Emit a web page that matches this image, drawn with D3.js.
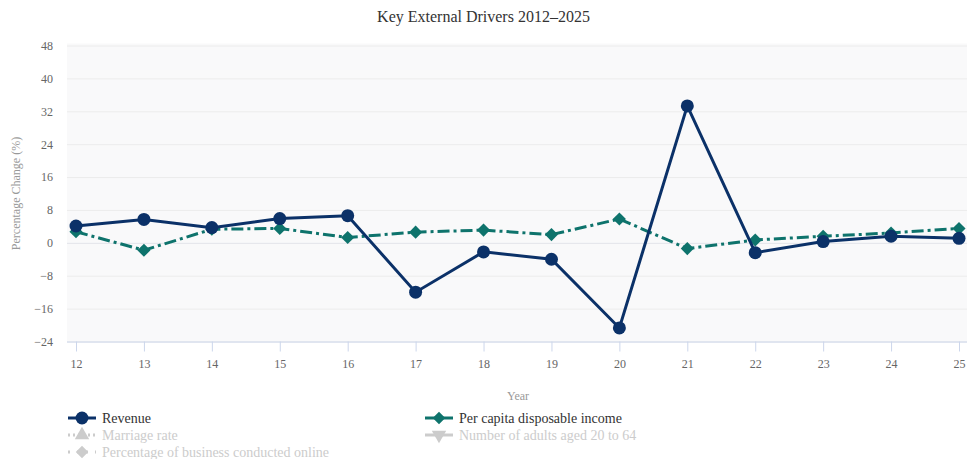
<!DOCTYPE html>
<html>
<head>
<meta charset="utf-8">
<script src="https://cdn.jsdelivr.net/npm/d3@7"></script>
<style>
  html, body { margin: 0; padding: 0; background: #ffffff; }
  svg { display: block; font-family: "Liberation Serif", "Times New Roman", serif; }
  svg text { font-family: "Liberation Serif", "Times New Roman", serif; }
</style>
</head>
<body>
<svg id="chart" width="967" height="459"></svg>
<script>
// Year labels (two-digit) along the category axis
const years = ["12","13","14","15","16","17","18","19","20","21","22","23","24","25"];
// Annual percentage change per series
const revenue = [4.1, 5.7, 3.7, 5.9, 6.6, -12.0, -2.2, -4.0, -20.7, 33.3, -2.4, 0.3, 1.6, 1.1];
const perCapitaIncome = [2.7, -1.8, 3.3, 3.5, 1.3, 2.6, 3.1, 2.0, 5.8, -1.4, 0.7, 1.6, 2.4, 3.5];
const yTicks = [-24, -16, -8, 0, 8, 16, 24, 32, 40, 48];

const svg = d3.select("#chart");
const W = 967;
const plot = { left: 67, right: 968, top: 45.5, bottom: 341.5 };

const x = d3.scalePoint().domain(years).range([76, 959]);
const y = d3.scaleLinear().domain([-24, 48]).range([plot.bottom, plot.top]);

// Plot background
svg.append("rect")
  .attr("x", plot.left).attr("y", plot.top - 2)
  .attr("width", plot.right - plot.left).attr("height", plot.bottom - plot.top + 2)
  .attr("fill", "#f9f9fa");

// Title
svg.append("text")
  .attr("x", W / 2).attr("y", 22)
  .attr("text-anchor", "middle")
  .attr("font-size", 16).attr("fill", "#333333")
  .text("Key External Drivers 2012–2025");

// Horizontal grid and y labels
const yAxis = d3.axisLeft(y).tickValues(yTicks).tickSize(-(plot.right - plot.left)).tickPadding(14);
const gy = svg.append("g").attr("transform", `translate(${plot.left},0)`).call(yAxis)
  .attr("font-family", "Liberation Serif, serif");
gy.select(".domain").remove();
gy.selectAll(".tick line")
  .attr("stroke", d => d === 0 ? "#e2e4ea" : "#ececec")
  .attr("stroke-width", 1);
gy.selectAll(".tick text")
  .attr("font-size", 12).attr("fill", "#666666");

svg.append("text")
  .attr("transform", `translate(20,${(plot.top + plot.bottom) / 2}) rotate(-90)`)
  .attr("text-anchor", "middle")
  .attr("font-size", 12).attr("fill", "#999999")
  .text("Percentage Change (%)");

// Category axis along the bottom
const xAxis = d3.axisBottom(x).tickSize(10).tickPadding(8);
const gx = svg.append("g").attr("transform", `translate(0,${plot.bottom})`).call(xAxis)
  .attr("font-family", "Liberation Serif, serif");
gx.select(".domain").attr("d", `M${plot.left},0.5H${plot.right}`).attr("stroke", "#ccd6eb");
gx.selectAll(".tick line").attr("stroke", "#ccd6eb");
gx.selectAll(".tick text")
  .attr("font-size", 12).attr("fill", "#666666");

svg.append("text")
  .attr("x", 518).attr("y", 400)
  .attr("text-anchor", "middle")
  .attr("font-size", 12).attr("fill", "#999999")
  .text("Year");

const revColor = "#0b3168";
const incColor = "#0e736c";

const line = d3.line().x((d, i) => x(years[i])).y(d => y(d));

// Per capita disposable income: dash-dot line with diamonds
svg.append("path")
  .datum(perCapitaIncome)
  .attr("d", line)
  .attr("fill", "none").attr("stroke", incColor)
  .attr("stroke-width", 3).attr("stroke-dasharray", "12,4,3,4");

const diamond = d3.symbol().type(d3.symbolDiamond2).size(110);
svg.append("g").selectAll("path")
  .data(perCapitaIncome)
  .join("path")
  .attr("transform", (d, i) => `translate(${x(years[i])},${y(d)})`)
  .attr("d", diamond)
  .attr("fill", incColor);

// Revenue: solid line with circles
svg.append("path")
  .datum(revenue)
  .attr("d", line)
  .attr("fill", "none").attr("stroke", revColor)
  .attr("stroke-width", 3);

svg.append("g").selectAll("circle")
  .data(revenue)
  .join("circle")
  .attr("cx", (d, i) => x(years[i]))
  .attr("cy", d => y(d))
  .attr("r", 6.5)
  .attr("fill", revColor);

// Legend
const legendItems = [
  { name: "Revenue", color: revColor, dash: null, marker: "circle", x: 68, y: 418, hidden: false },
  { name: "Per capita disposable income", color: incColor, dash: null, marker: "diamond", x: 425, y: 418, hidden: false },
  { name: "Marriage rate", color: "#cccccc", dash: "2,3", marker: "triangle", x: 68, y: 435, hidden: true },
  { name: "Number of adults aged 20 to 64", color: "#cccccc", dash: null, marker: "triangleDown", x: 425, y: 435, hidden: true },
  { name: "Percentage of business conducted online", color: "#cccccc", dash: "2,7", marker: "diamond", x: 68, y: 452, hidden: true }
];
const markerShapes = {
  circle: d3.symbol().type(d3.symbolCircle).size(130),
  diamond: d3.symbol().type(d3.symbolDiamond2).size(100),
  triangle: d3.symbol().type(d3.symbolTriangle).size(90),
  triangleDown: d3.symbol().type(d3.symbolTriangle).size(90)
};
const lg = svg.append("g");
legendItems.forEach(it => {
  const g = lg.append("g").attr("transform", `translate(${it.x},${it.y})`);
  g.append("line")
    .attr("x1", 0).attr("x2", 28).attr("y1", 0).attr("y2", 0)
    .attr("stroke", it.color).attr("stroke-width", 3)
    .attr("stroke-dasharray", it.dash);
  g.append("path")
    .attr("d", markerShapes[it.marker])
    .attr("transform", `translate(14,0)${it.marker === "triangleDown" ? " rotate(180)" : ""}`)
    .attr("fill", it.color);
  g.append("text")
    .attr("x", 34).attr("y", 5)
    .attr("font-size", 14)
    .attr("fill", it.hidden ? "#cccccc" : "#333333")
    .text(it.name);
});
</script>
</body>
</html>
